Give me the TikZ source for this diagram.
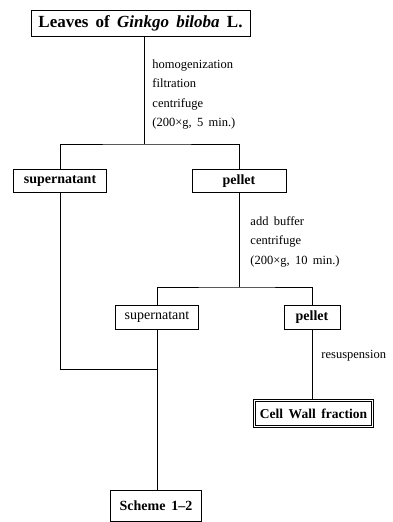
\documentclass[tikz,border=0pt]{standalone}
\usepackage{fontspec}
\setmainfont[WordSpace=1.7]{Liberation Serif}
\usepackage{tikz}

\tikzset{
  box/.style={draw, line width=0.9pt, inner sep=0pt, font=\bfseries\fontsize{14}{16}\selectfont},
  note/.style={inner sep=0pt, font=\fontsize{12.5}{19.5}\selectfont, align=left}
}

\begin{document}
\begin{tikzpicture}[x=1pt,y=-1pt,line width=0.9pt]
        \useasboundingbox (0,0) rectangle (393,522);

        \node[box, minimum width=219pt, minimum height=26pt, font=\bfseries\fontsize{17}{20}\selectfont] (leaves) at (140.5,23) {Leaves of \textit{Ginkgo biloba} L.};

        \node[box, minimum width=93pt, minimum height=23pt] (sup1) at (60,181) {supernatant};
        \node[box, minimum width=94pt, minimum height=23pt] (pel1) at (239,181) {pellet};

        \node[box, minimum width=83pt, minimum height=24pt, font=\fontsize{14}{16}\selectfont] (sup2) at (157,317) {supernatant};
        \node[box, minimum width=56pt, minimum height=24pt] (pel2) at (312,317) {pellet};

        \node[box, double, double distance=1.2pt, minimum width=118pt, minimum height=26pt, font=\bfseries\fontsize{13.5}{16}\selectfont] (cwf) at (313.5,413.5) {Cell Wall fraction};
        \node[box, minimum width=91pt, minimum height=31pt] (scheme) at (156,505.5) {Scheme 1--2};

        \node[note, anchor=north west] (prep) at (152,59) {homogenization\\filtration\\centrifuge\\(200×g, 5 min.)};
        \node[note, anchor=north west] (wash) at (250,216) {add buffer\\centrifuge\\(200×g, 10 min.)};
        \node[note, anchor=base west] (resus) at (321,358) {resuspension};

        \coordinate (j1) at (144,144);
        \coordinate (j2) at (239,287);
        \coordinate (j3) at (157,369);

        \draw (leaves.south -| j1) -- (j1);
        \draw (sup1.north) |- (j1) -| (pel1.north);
        \draw (pel1.south) -- (j2);
        \draw (sup2.north) |- (j2) -| (pel2.north);
        \draw (pel2.south) -- (pel2.south |- cwf.north);
        \draw (sup1.south) |- (j3);
        \draw (sup2.south) -- (sup2.south |- scheme.north);
    \end{tikzpicture}
\end{document}
